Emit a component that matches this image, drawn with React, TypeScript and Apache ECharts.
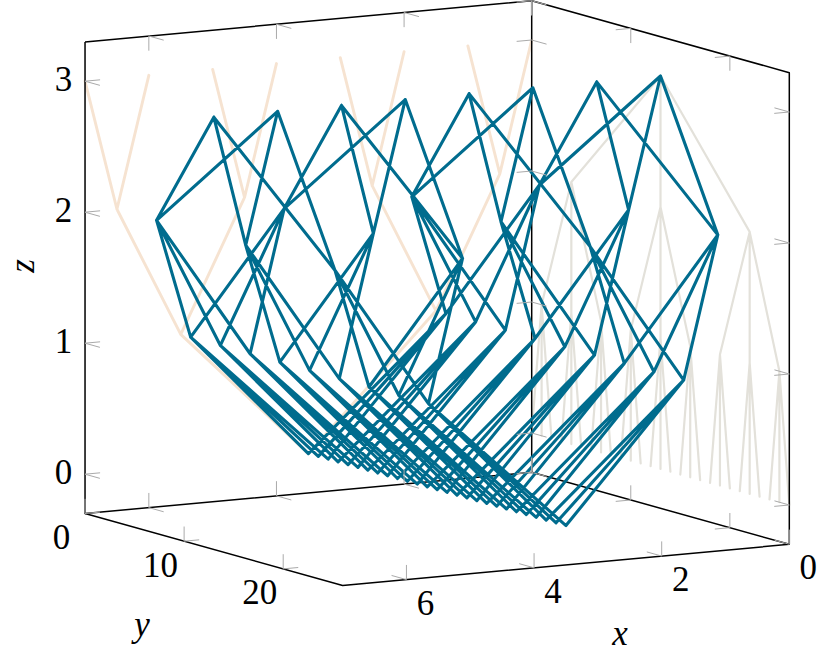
import React, { useEffect, useRef } from "react";
import * as echarts from "echarts";

// Links between the levels of the lattice (z = level), per coordinate
const xLinks32: number[][] = [[0, 0.5], [1, 0.5], [2, 2.5], [3, 2.5], [4, 4.5], [5, 4.5], [6, 6.5], [7, 6.5]];
const xLinks21: number[][] = [[0.5, 1.5], [2.5, 1.5], [4.5, 5.5], [6.5, 5.5]];
const xLinks10: number[][] = [[1.5, 3.5], [5.5, 3.5]];
const yLinks32: number[][] = [[13, 4], [13, 13], [13, 22]];
const yLinks21: number[][] = [[4, 1], [4, 4], [4, 7], [13, 10], [13, 13], [13, 16], [22, 19], [22, 22], [22, 25]];
const yLinks10: number[][] = [
  [1, 0], [1, 1], [1, 2], [4, 3], [4, 4], [4, 5], [7, 6], [7, 7], [7, 8],
  [10, 9], [10, 10], [10, 11], [13, 12], [13, 13], [13, 14], [16, 15], [16, 16], [16, 17],
  [19, 18], [19, 19], [19, 20], [22, 21], [22, 22], [22, 23], [25, 24], [25, 25], [25, 26],
];

// Axes
const xTicks = [0, 2, 4, 6];
const yTicks = [0, 10, 20];
const zTicks = [0, 1, 2, 3];
const xMax = 7;
const yMax = 26;
const zMin = -0.3;
const zMax = 3.3;

// Projection of the 3D box on the page
const ORIGIN = [531.7, 472.3];
const UX = [-63.81, 5.886];
const UY = [9.908, 2.769];
const UZ = 131;
const TX = 0.236;
const TY = 1.5;
const TZ = 0.112;

type P3 = [number, number, number];
const project = ([x, y, z]: P3): number[] => [
  ORIGIN[0] + x * UX[0] + y * UY[0],
  ORIGIN[1] + x * UX[1] + y * UY[1] - (z - zMin) * UZ,
];

const BREAK: any = ["-", "-"];

function buildSegments(): P3[][] {
  const segs: P3[][] = [];
  const levels = [
    { xl: xLinks32, yl: yLinks32, zu: 3, zl: 2 },
    { xl: xLinks21, yl: yLinks21, zu: 2, zl: 1 },
    { xl: xLinks10, yl: yLinks10, zu: 1, zl: 0 },
  ];
  for (const { xl, yl, zu, zl } of levels) {
    for (const [xa, xb] of xl) {
      for (const [ya, yb] of yl) {
        segs.push([[xa, ya, zu], [xb, yb, zl]]);
      }
    }
  }
  return segs;
}

function toLine(segs: P3[][]): any[] {
  const out: any[] = [];
  segs.forEach((s) => {
    s.forEach((p) => out.push(project(p)));
    out.push(BREAK);
  });
  return out;
}

const segments = buildSegments();
const onYWall = segments.map((s) => s.map(([x, , z]) => [x, 0, z] as P3));
const onXWall = segments.map((s) => s.map(([, y, z]) => [0, y, z] as P3));

const backFrame: P3[][] = [
  [[xMax, 0, zMin], [0, 0, zMin], [0, yMax, zMin]],
  [[0, 0, zMin], [0, 0, zMax]],
];
const frontFrame: P3[][] = [
  [[xMax, 0, zMax], [0, 0, zMax], [0, yMax, zMax], [0, yMax, zMin], [xMax, yMax, zMin], [xMax, 0, zMin], [xMax, 0, zMax]],
];

function tickSegments(): P3[][] {
  const t: P3[][] = [];
  const add = (p: P3, d: P3) => t.push([p, [p[0] + d[0], p[1] + d[1], p[2] + d[2]]]);
  xTicks.forEach((x) => {
    add([x, yMax, zMin], [0, 0, TZ]);
    add([x, yMax, zMin], [0, -TY, 0]);
    add([x, 0, zMin], [0, 0, TZ]);
    add([x, 0, zMin], [0, TY, 0]);
    add([x, 0, zMax], [0, 0, -TZ]);
    add([x, 0, zMax], [0, TY, 0]);
  });
  yTicks.forEach((y) => {
    add([xMax, y, zMin], [0, 0, TZ]);
    add([xMax, y, zMin], [-TX, 0, 0]);
    add([0, y, zMin], [0, 0, TZ]);
    add([0, y, zMin], [TX, 0, 0]);
    add([0, y, zMax], [0, 0, -TZ]);
    add([0, y, zMax], [TX, 0, 0]);
  });
  zTicks.forEach((z) => {
    add([xMax, 0, z], [-TX, 0, 0]);
    add([xMax, 0, z], [0, TY, 0]);
    add([0, yMax, z], [TX, 0, 0]);
    add([0, yMax, z], [0, -TY, 0]);
    add([0, 0, z], [TX, 0, 0]);
    add([0, 0, z], [0, TY, 0]);
  });
  return t;
}

const lineSeries = (data: any[], color: string, width: number, cap = "round", z = 1) => ({
  type: "line",
  data,
  z,
  showSymbol: false,
  symbol: "none",
  silent: true,
  clip: false,
  connectNulls: false,
  lineStyle: { color, width, cap, join: "round" },
});

const label = (pos: number[], text: string, italic = false, rotation = 0) => ({
  type: "text",
  x: pos[0],
  y: pos[1],
  rotation,
  z: 20,
  silent: true,
  style: {
    text,
    fill: "#000000",
    font: `${italic ? "italic " : ""}35px "Liberation Serif", "Times New Roman", serif`,
    textAlign: "center",
    textVerticalAlign: "middle",
    align: "center",
    verticalAlign: "middle",
  },
});

const off = (p: number[], dx: number, dy: number) => [p[0] + dx, p[1] + dy];

export default function App() {
  const ref = useRef<HTMLDivElement>(null);
  useEffect(() => {
    document.body.style.margin = "0";
    const chart = echarts.init(ref.current!, null, { renderer: "svg" });
    chart.setOption({
      animation: false,
      backgroundColor: "#fff",
      grid: { left: 0, right: 0, top: 0, bottom: 0 },
      xAxis: { type: "value", min: 0, max: 829, show: false },
      yAxis: { type: "value", min: 0, max: 656, inverse: true, show: false },
      graphic: [
        ...xTicks.map((x) => label(off(project([x, yMax, zMin]), 19, 23.5), String(x))),
        ...yTicks.map((y) => label(off(project([xMax, y, zMin]), -23.5, 24), String(y))),
        ...zTicks.map((z) => label(off(project([xMax, 0, z]), -21.5, -1.5), String(z))),
        label([620, 633], "x", true),
        label([142, 624], "y", true),
        label([22, 266], "z", true, Math.PI / 2),
      ],
      series: [
        lineSeries(toLine(onYWall), "#f6e3d1", 2.9, "round", 1),
        lineSeries(toLine(onXWall), "#e3e1da", 2.2, "round", 2),
        lineSeries(toLine(backFrame), "#000", 1.5, "butt", 3),
        lineSeries(toLine(segments), "#006c8e", 3.1, "round", 5),
        lineSeries(toLine(frontFrame), "#000", 1.5, "butt", 4),
        lineSeries(toLine(tickSegments()), "#aaaaaa", 1, "butt", 6),
      ],
    });
    return () => chart.dispose();
  }, []);
  return <div ref={ref} style={{ width: 829, height: 656, position: "fixed", left: 0, top: 0 }} />;
}
